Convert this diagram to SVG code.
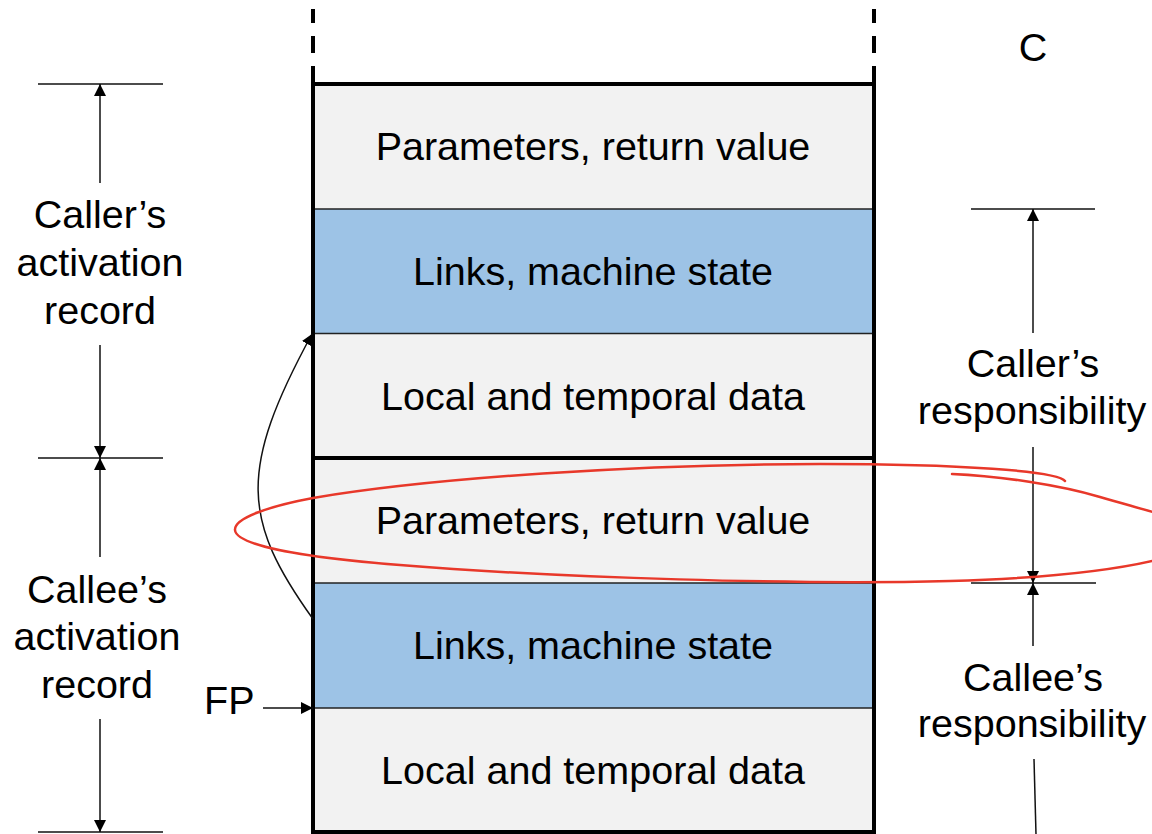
<svg xmlns="http://www.w3.org/2000/svg" width="1152" height="834" viewBox="0 0 1152 834">
  <style>
    text { font-family: "Liberation Sans", Arial, sans-serif; font-size: 39.5px; fill: #000; }
    .mid { text-anchor: middle; }
    .light { fill: #f2f2f2; }
    .blue { fill: #9dc3e6; }
    .sep { stroke: #222; stroke-width: 1.5; }
    .thick { stroke: #000; stroke-width: 4; fill: none; }
    .dim { stroke: #111; stroke-width: 1.5; fill: none; }
    .ext { stroke: #111; stroke-width: 1.3; }
    .mark { stroke: #e8382a; stroke-width: 2.5; fill: none; stroke-linecap: round; }
  </style>
  <defs>
    <marker id="arrow" viewBox="0 0 10 10" refX="10" refY="5" markerUnits="userSpaceOnUse" markerWidth="12" markerHeight="12" orient="auto">
      <path d="M0,0 L10,5 L0,10 z" fill="#000"/>
    </marker>
    <marker id="arrowSmall" viewBox="0 0 10 10" refX="10" refY="5" markerUnits="userSpaceOnUse" markerWidth="11" markerHeight="11" orient="auto">
      <path d="M0,0 L10,5 L0,10 z" fill="#000"/>
    </marker>
  </defs>

  <rect width="1152" height="834" fill="#fff"/>

  <!-- stack frames -->
  <g id="caller-params">
    <rect class="light" x="313" y="84" width="561" height="125"/>
    <text class="mid" x="593" y="160">Parameters, return value</text>
  </g>
  <g id="caller-links">
    <rect class="blue" x="313" y="209" width="561" height="124.5"/>
    <text class="mid" x="593" y="285">Links, machine state</text>
  </g>
  <g id="caller-locals">
    <rect class="light" x="313" y="333.5" width="561" height="124.5"/>
    <text class="mid" x="593" y="410">Local and temporal data</text>
  </g>
  <g id="callee-params">
    <rect class="light" x="313" y="458" width="561" height="125"/>
    <text class="mid" x="593" y="534">Parameters, return value</text>
  </g>
  <g id="callee-links">
    <rect class="blue" x="313" y="583" width="561" height="125"/>
    <text class="mid" x="593" y="659">Links, machine state</text>
  </g>
  <g id="callee-locals">
    <rect class="light" x="313" y="708" width="561" height="124"/>
    <text class="mid" x="593" y="784">Local and temporal data</text>
  </g>

  <!-- stack outline -->
  <g id="stack-outline">
    <line class="sep" x1="313" y1="209" x2="874" y2="209"/>
    <line class="sep" x1="313" y1="333.5" x2="874" y2="333.5"/>
    <line class="sep" x1="313" y1="583" x2="874" y2="583"/>
    <line class="sep" x1="313" y1="708" x2="874" y2="708"/>
    <line class="thick" x1="313" y1="458" x2="874" y2="458"/>
    <path class="thick" d="M313,66 V832 H874 V66"/>
    <line class="thick" x1="874" y1="84" x2="313" y2="84"/>
    <line class="thick" x1="313" y1="9" x2="313" y2="53" stroke-dasharray="14 13 17 20"/>
    <line class="thick" x1="874" y1="9" x2="874" y2="53" stroke-dasharray="14 13 17 20"/>
  </g>

  <!-- labels -->
  <g id="label-c">
    <text class="mid" x="1033" y="61">C</text>
  </g>
  <g id="label-caller-record">
    <text class="mid" x="100" y="228">Caller’s</text>
    <text class="mid" x="100" y="276">activation</text>
    <text class="mid" x="100" y="324">record</text>
  </g>
  <g id="label-callee-record">
    <text class="mid" x="97" y="603">Callee’s</text>
    <text class="mid" x="97" y="650">activation</text>
    <text class="mid" x="97" y="698">record</text>
  </g>
  <g id="label-caller-resp">
    <text class="mid" x="1033" y="377">Caller’s</text>
    <text class="mid" x="1032" y="424">responsibility</text>
  </g>
  <g id="label-callee-resp">
    <text class="mid" x="1033" y="691">Callee’s</text>
    <text class="mid" x="1032" y="737">responsibility</text>
  </g>
  <g id="label-fp">
    <text x="204" y="714">FP</text>
  </g>

  <!-- connectors and dimension lines -->
  <g id="connectors">
    <!-- left: activation records -->
    <line class="ext" x1="38" y1="84" x2="163" y2="84"/>
    <line class="ext" x1="38" y1="458" x2="163" y2="458"/>
    <line class="ext" x1="38" y1="832" x2="163" y2="832"/>
    <line class="dim" x1="100" y1="183" x2="100" y2="84" marker-end="url(#arrow)"/>
    <line class="dim" x1="100" y1="345" x2="100" y2="458" marker-end="url(#arrow)"/>
    <line class="dim" x1="100" y1="557" x2="100" y2="458" marker-end="url(#arrow)"/>
    <line class="dim" x1="100" y1="719" x2="100" y2="832" marker-end="url(#arrow)"/>

    <!-- right: responsibilities -->
    <line class="ext" x1="971" y1="209" x2="1095" y2="209"/>
    <line class="ext" x1="971" y1="583" x2="1096" y2="583"/>
    <line class="dim" x1="1033" y1="333" x2="1033" y2="209" marker-end="url(#arrow)"/>
    <line class="dim" x1="1033" y1="447" x2="1033" y2="583" marker-end="url(#arrow)"/>
    <line class="dim" x1="1033" y1="646" x2="1033" y2="583" marker-end="url(#arrow)"/>
    <line class="dim" x1="1034" y1="759" x2="1036" y2="834"/>

    <!-- frame pointer -->
    <line class="dim" x1="263" y1="708" x2="313" y2="708" marker-end="url(#arrow)"/>

    <!-- control link back to caller frame -->
    <path class="dim" d="M313,619 C242,520 238,470 312,334" marker-end="url(#arrowSmall)"/>
  </g>

  <!-- hand-drawn red loop around the callee parameters -->
  <g id="annotation">
    <path class="mark" d="M1065,481 C1058,471 960,464 820,464 C640,464 430,478 313,498 C270,506 234,518 235,530 C236,545 300,557 400,565 C560,578 800,585 950,581 C1050,578 1120,569 1160,559"/>
    <path class="mark" d="M952,474 C1000,476 1060,485 1100,497 C1125,504 1145,510 1160,514"/>
  </g>
</svg>
